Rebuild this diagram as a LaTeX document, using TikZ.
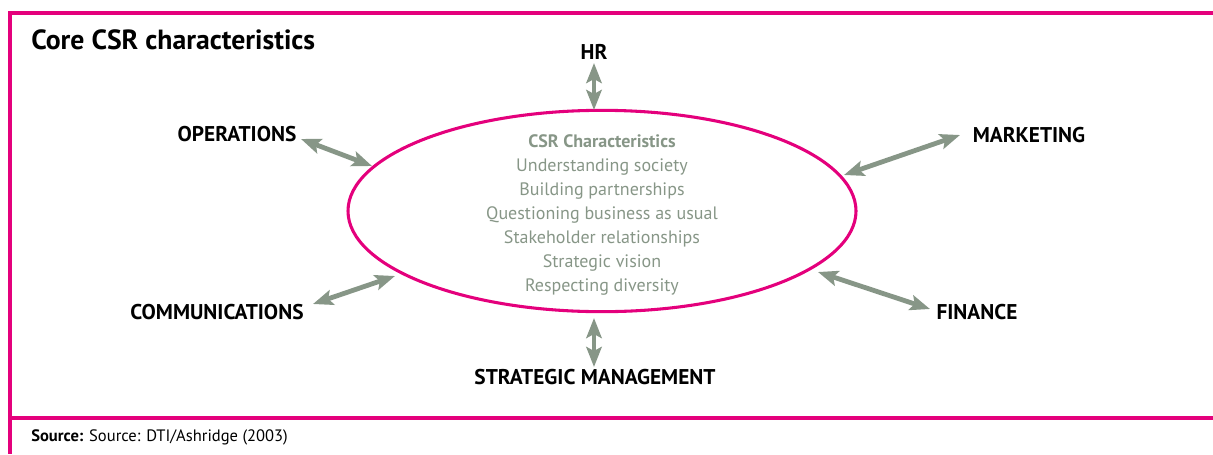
\documentclass[tikz,border=0pt]{standalone}
\usepackage{fontspec}
\setmainfont{PT Sans}
\usetikzlibrary{arrows.meta,shapes.geometric}
\definecolor{csrpink}{RGB}{228,0,124}
\definecolor{csrgray}{RGB}{135,150,135}
\tikzset{
  dbl/.style={draw=csrgray, line width=3.6pt,
    {Stealth[length=15pt,width=11.5pt,inset=3pt]}-{Stealth[length=15pt,width=11.5pt,inset=3pt]}},
  lab/.style={font=\fontsize{16}{18}\selectfont\bfseries, text=black, inner sep=0pt},
  frame/.style={draw=csrpink, line width=2.3pt},
}
\begin{document}
\begin{tikzpicture}[x=0.75pt,y=-0.75pt]
\useasboundingbox (0,0) rectangle (1213,454);
% frame
\draw[frame] (1213,13) -- (10,13) -- (10,454);
\draw[frame] (10,418) -- (1213,418);
% title
\node[anchor=west, inner sep=0pt, font=\fontsize{20.8}{24}\selectfont\bfseries] (title) at (31,40) {Core CSR characteristics};
% ellipse
\node[ellipse, draw=csrpink, line width=2.3pt, minimum width=381pt, minimum height=151pt, inner sep=0pt] (ell) at (602,211) {};
\node[align=center, text=csrgray, inner sep=0pt, font=\fontsize{13.5}{18}\selectfont] (chars) at (602,215)
  {\textbf{CSR Characteristics}\\Understanding society\\Building partnerships\\Questioning business as usual\\Stakeholder relationships\\Strategic vision\\Respecting diversity};
% labels
\node[lab] (hr) at (594,52) {HR};
\node[lab] (ops) at (237,134) {OPERATIONS};
\node[lab] (mkt) at (1029,135) {MARKETING};
\node[lab] (com) at (217,312) {COMMUNICATIONS};
\node[lab] (fin) at (977,312) {FINANCE};
\node[lab] (stm) at (595,377) {STRATEGIC MANAGEMENT};
% source
\node[anchor=west, inner sep=0pt, font=\fontsize{12.4}{14}\selectfont] (src) at (31,437) {\textbf{Source:} Source: DTI/Ashridge (2003)};
% arrow end points
\coordinate (hrA) at (594,63);   \coordinate (hrB) at (594,110);
\coordinate (opsA) at (301,139); \coordinate (opsB) at (372,166);
\coordinate (mktA) at (960,135); \coordinate (mktB) at (844,175);
\coordinate (comA) at (313,304); \coordinate (comB) at (395,276);
\coordinate (finA) at (818,272); \coordinate (finB) at (930,309);
\coordinate (stmA) at (594,318); \coordinate (stmB) at (594,367);
% arrows
\draw[dbl] (hrA) -- (hrB);
\draw[dbl] (opsA) -- (opsB);
\draw[dbl] (mktA) -- (mktB);
\draw[dbl] (comA) -- (comB);
\draw[dbl] (finA) -- (finB);
\draw[dbl] (stmA) -- (stmB);
\end{tikzpicture}
\end{document}
